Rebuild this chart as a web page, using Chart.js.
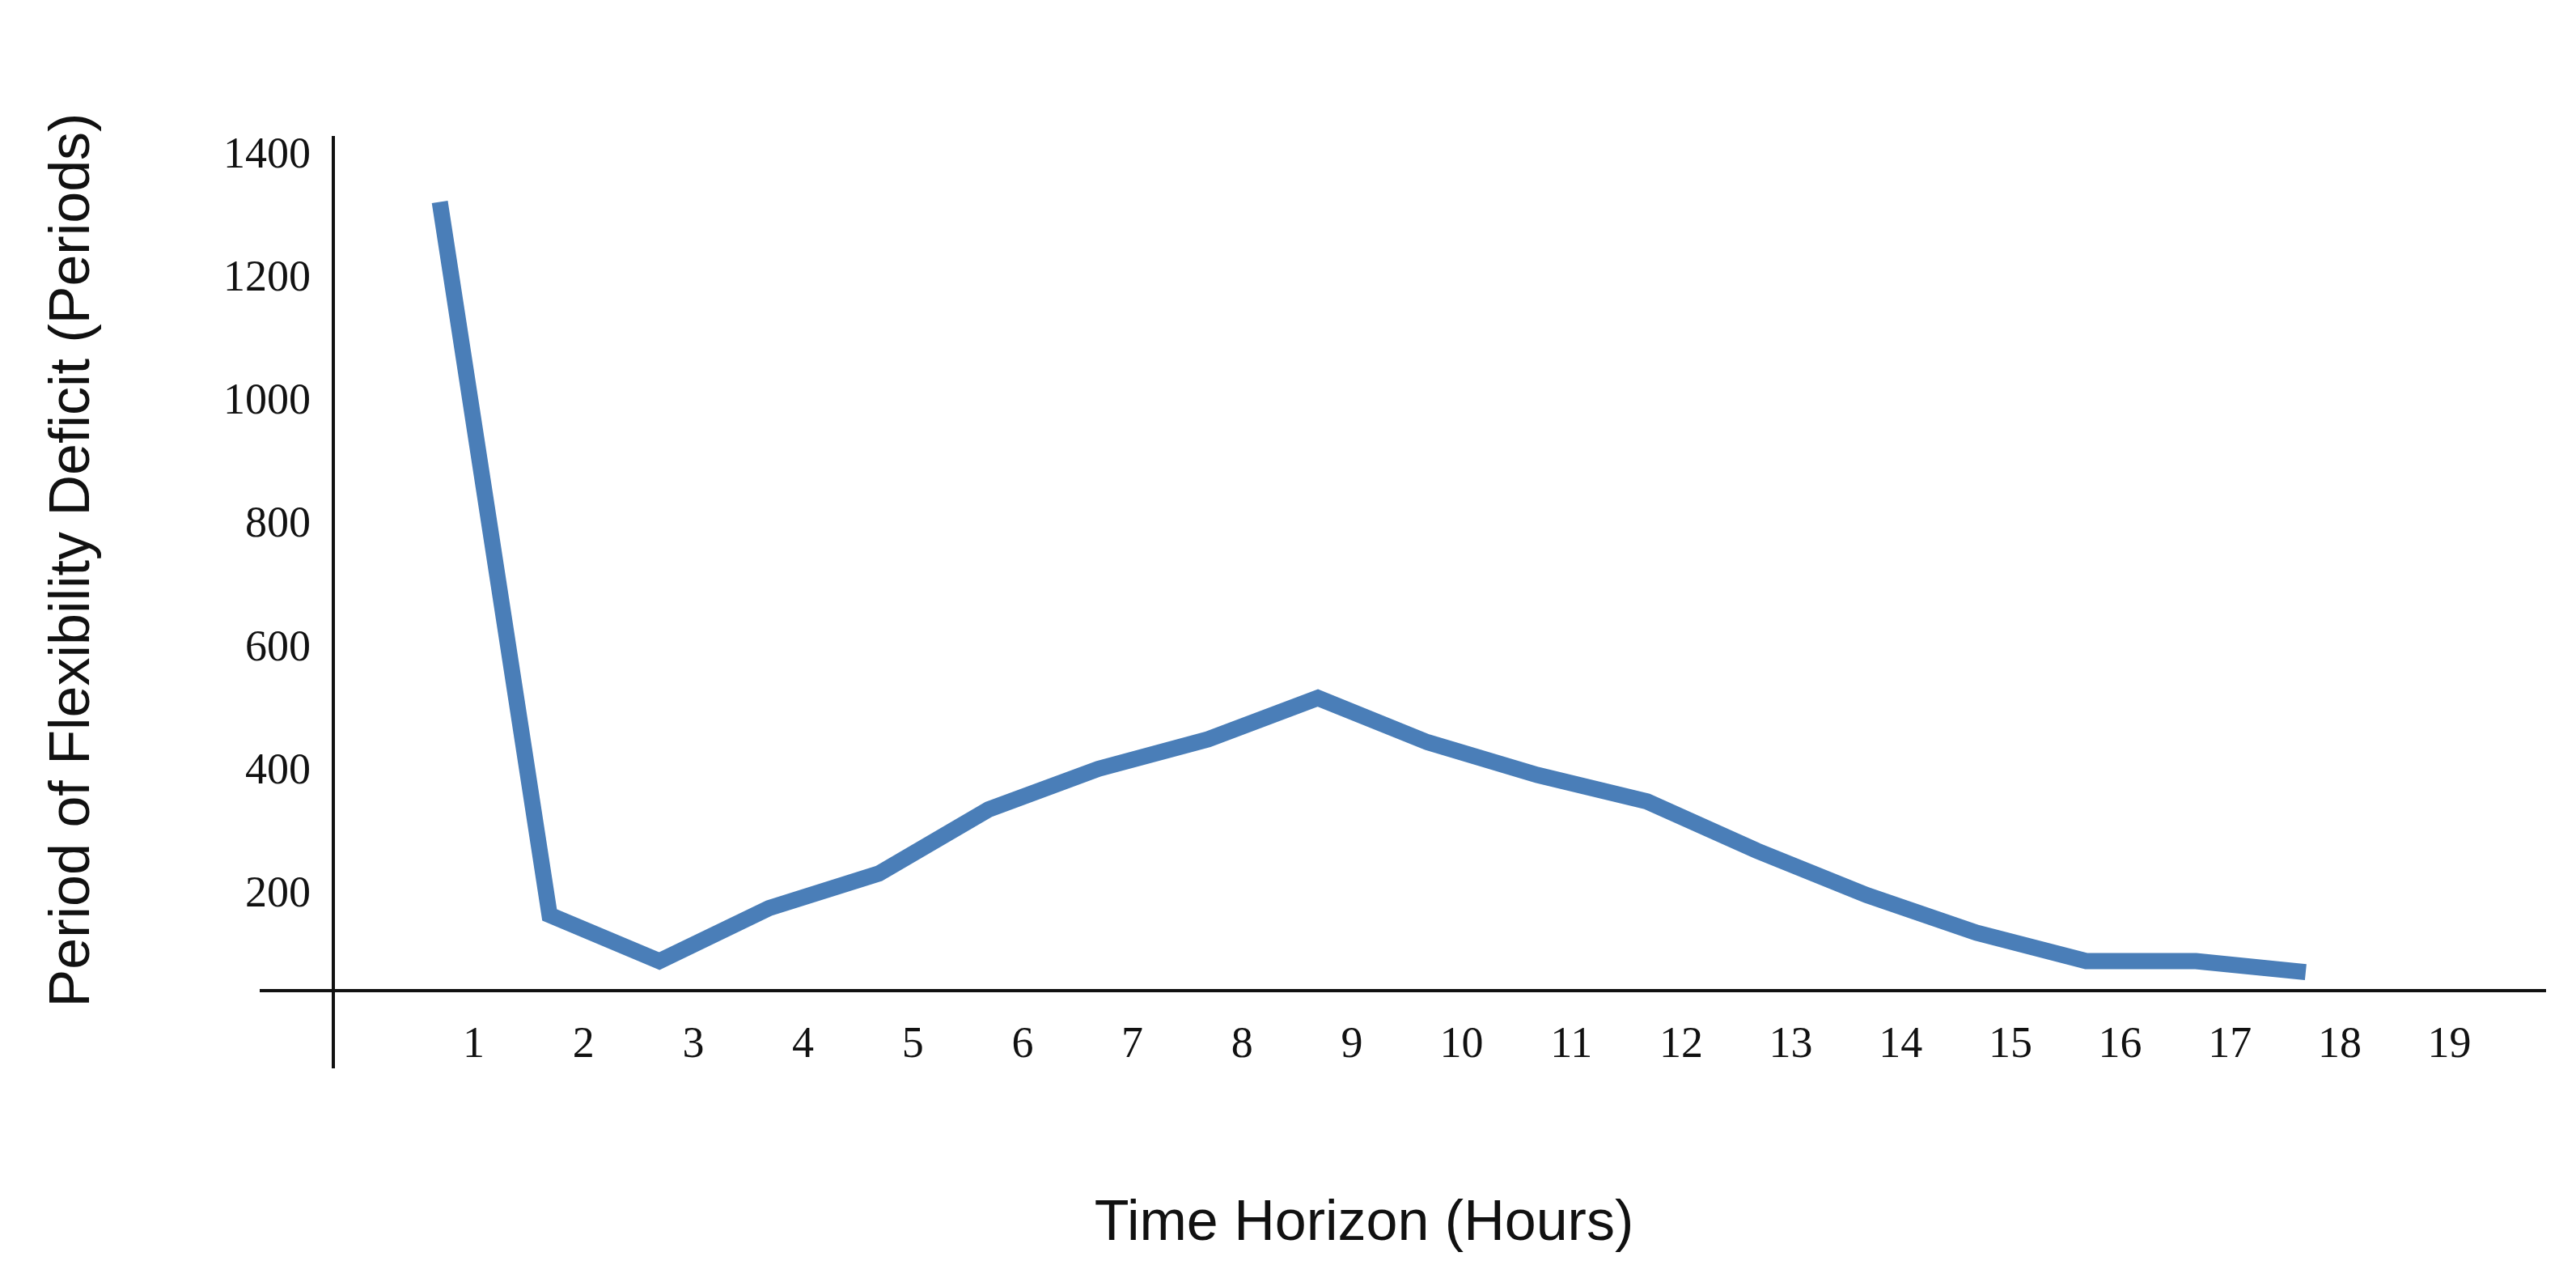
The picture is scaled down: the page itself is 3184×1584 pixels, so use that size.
<!DOCTYPE html>
<html><head><meta charset="utf-8">
<script src="https://cdn.jsdelivr.net/npm/chart.js@4"></script>
<style>html,body{margin:0;padding:0;background:#fff}canvas{display:block}</style>
</head><body>
<div style="width:3184px;height:1584px"><canvas id="c" width="3184" height="1584"></canvas></div>
<script>
const hours = [1,2,3,4,5,6,7,8,9,10,11,12,13,14,15,16,17,18];
const deficit = [1325,168,93,179,235,339,405,453,520,448,395,352,272,200,139,93,93,75];
const xTickLabels = ['1','2','3','4','5','6','7','8','9','10','11','12','13','14','15','16','17','18','19'];
const yTickLabels = [200,400,600,800,1000,1200,1400];

const axesPlugin = {
  id:'axesPlugin',
  afterDraw(chart){
    const ctx = chart.ctx, a = chart.chartArea, xs = chart.scales.x, ys = chart.scales.y;
    ctx.save();
    ctx.strokeStyle = '#111'; ctx.lineWidth = 4;
    ctx.beginPath(); ctx.moveTo(a.left, a.top); ctx.lineTo(a.left, 1320); ctx.stroke();
    ctx.beginPath(); ctx.moveTo(321, a.bottom); ctx.lineTo(a.right, a.bottom); ctx.stroke();
    ctx.fillStyle = '#111';
    ctx.font = '54px "Liberation Serif", serif';
    ctx.textAlign = 'right'; ctx.textBaseline = 'middle';
    yTickLabels.forEach(v => ctx.fillText(String(v), 384, ys.getPixelForValue(v)));
    ctx.textAlign = 'center';
    xTickLabels.forEach((l,i) => ctx.fillText(l, xs.getPixelForValue(i+1) + 42, 1292));
    ctx.font = '70px "Liberation Sans", Arial, sans-serif';
    ctx.fillText('Time Horizon (Hours)', 1686, 1513);
    ctx.translate(91, 692); ctx.rotate(-Math.PI/2);
    ctx.fillText('Period of Flexibility Deficit (Periods)', 0, 0);
    ctx.restore();
  }
};

new Chart(document.getElementById('c'), {
  type:'line',
  data:{ datasets:[{ data: hours.map((h,i)=>({x:h,y:deficit[i]})), borderColor:'#4a7eb8', borderWidth:20, pointRadius:0, tension:0, borderJoinStyle:'miter' }]},
  options:{
    responsive:false, animation:false, devicePixelRatio:1,
    layout:{ padding:{ left:412, right:37, top:168, bottom:360 } },
    plugins:{ legend:{display:false}, tooltip:{enabled:false} },
    scales:{
      x:{ type:'linear', min:0.03, max:20.19, display:false },
      y:{ type:'linear', min:45, max:1432, display:false }
    }
  },
  plugins:[axesPlugin]
});
</script>
</body></html>
